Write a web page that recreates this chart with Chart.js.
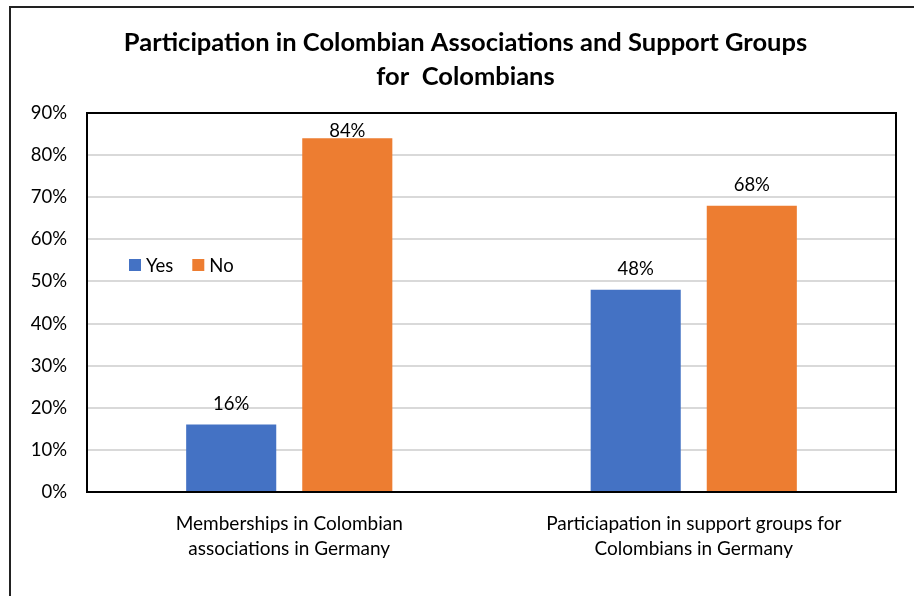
<!DOCTYPE html>
<html>
<head>
<meta charset="utf-8">
<script src="https://cdn.jsdelivr.net/npm/chart.js@4.4.1/dist/chart.umd.min.js"></script>
<style>
html,body{margin:0;padding:0;background:#fff;}
#wrap{position:relative;width:914px;height:596px;}
</style>
</head>
<body>
<div id="wrap"><canvas id="c" width="914" height="596"></canvas></div>
<script>
const categories = [
  ["Memberships in Colombian", "associations in Germany"],
  ["Particiapation in support groups for", "Colombians in Germany"]
];
const seriesNames = ["Yes", "No"];
const yesValues = [16, 48];
const noValues = [84, 68];
const seriesColors = ["#4472C4", "#ED7D31"];
const titleLines = ["Participation in Colombian Associations and Support Groups", "for  Colombians"];
const FONT = "Lato, 'Open Sans', sans-serif";

const decorPlugin = {
  id: 'decor',
  beforeDraw(chart) {
    const ctx = chart.ctx;
    ctx.save();
    ctx.fillStyle = '#fff';
    ctx.fillRect(0, 0, chart.width, chart.height);
    // outer border (left + top visible)
    ctx.strokeStyle = '#222';
    ctx.lineWidth = 2;
    ctx.beginPath();
    ctx.moveTo(10, chart.height + 5);
    ctx.lineTo(10, 7);
    ctx.lineTo(chart.width + 5, 7);
    ctx.stroke();
    // title
    ctx.fillStyle = '#000';
    ctx.font = "bold 25.5px " + FONT;
    ctx.textAlign = 'center';
    ctx.textBaseline = 'middle';
    titleLines.forEach((t, i) => ctx.fillText(t, 465.5, 43 + i * 34));
    ctx.restore();
  },
  afterDatasetsDraw(chart) {
    const ctx = chart.ctx;
    const area = chart.chartArea;
    ctx.save();
    // plot border
    ctx.strokeStyle = '#000';
    ctx.lineWidth = 2;
    ctx.strokeRect(area.left, area.top, area.right - area.left, area.bottom - area.top);
    // data labels
    ctx.fillStyle = '#000';
    ctx.font = "18.5px " + FONT;
    ctx.textAlign = 'center';
    ctx.textBaseline = 'middle';
    chart.data.datasets.forEach((ds, di) => {
      const meta = chart.getDatasetMeta(di);
      meta.data.forEach((bar, i) => {
        const y = Math.max(bar.y - 21, area.top + 18);
        ctx.fillText(Math.round(ds.data[i]) + '%', bar.x, y);
      });
    });
    // legend inside plot
    ctx.textAlign = 'left';
    let x = area.left + 42;
    const ly = 265;
    chart.data.datasets.forEach((ds, di) => {
      ctx.fillStyle = ds.backgroundColor;
      ctx.fillRect(x, ly - 6, 12, 12);
      ctx.fillStyle = '#000';
      ctx.fillText(ds.label, x + 17, ly + 1);
      x += 17 + ctx.measureText(ds.label).width + 19;
    });
    ctx.restore();
  }
};

new Chart(document.getElementById('c'), {
  type: 'bar',
  data: {
    labels: categories,
    datasets: [
      { label: seriesNames[0], data: yesValues, backgroundColor: seriesColors[0] },
      { label: seriesNames[1], data: noValues, backgroundColor: seriesColors[1] }
    ]
  },
  options: {
    responsive: false,
    animation: false,
    devicePixelRatio: 1,
    categoryPercentage: 0.574,
    barPercentage: 0.776,
    layout: { padding: { left: 0, right: 18, top: 113, bottom: 0 } },
    plugins: {
      legend: { display: false },
      tooltip: { enabled: false },
      title: { display: false }
    },
    scales: {
      x: {
        grid: { display: false, drawTicks: false },
        border: { display: true, color: '#000', width: 2 },
        ticks: { color: '#000', font: { family: FONT, size: 19, lineHeight: 1.316 }, padding: 19.5, maxRotation: 0 },
        afterFit(s) { s.height = 104; }
      },
      y: {
        min: 0, max: 90,
        grid: { color: '#D9D9D9', lineWidth: 2, drawTicks: false },
        border: { display: false },
        ticks: { stepSize: 10, color: '#000', font: { family: FONT, size: 18.5 }, padding: 20,
          callback: v => v + '%' },
        afterFit(s) { s.width = 87; }
      }
    }
  },
  plugins: [decorPlugin]
});
</script>
</body>
</html>
